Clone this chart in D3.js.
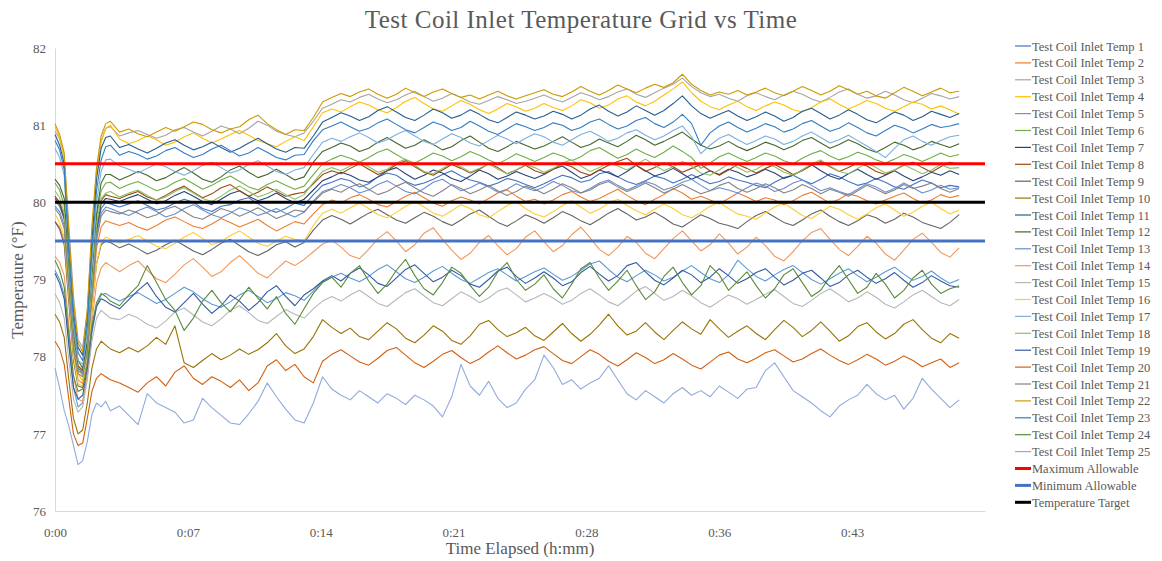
<!DOCTYPE html>
<html>
<head>
<meta charset="utf-8">
<script src="https://cdn.jsdelivr.net/npm/d3@7"></script>
<style>
  body { margin: 0; background: #fff; }
  text { font-family: "Liberation Serif", "DejaVu Serif", serif; fill: #595959; }
</style>
</head>
<body>
<div class="chart"></div>
<script>
// sample times in minutes elapsed
var minutes = [0, 0.25, 0.5, 0.75, 1, 1.25, 1.5, 1.75, 2, 2.25, 2.5, 2.75, 3,
  3.5, 4, 4.5, 5, 5.5, 6, 6.5, 7, 7.5, 8, 8.5, 9, 9.5, 10, 10.5, 11, 11.5, 12, 12.5, 13, 13.5, 14, 14.5,
  15, 15.5, 16, 16.5, 17, 17.5, 18, 18.5, 19, 19.5, 20, 20.5, 21, 21.5, 22, 22.5, 23, 23.5, 24, 24.5, 25, 25.5, 26,
  26.5, 27, 27.5, 28, 28.5, 29, 29.5, 30, 30.5, 31, 31.5, 32, 32.5, 33, 33.5, 34, 34.5, 35, 35.5, 36, 36.5, 37, 37.5,
  38, 38.5, 39, 39.5, 40, 40.5, 41, 41.5, 42, 42.5, 43, 43.5, 44, 44.5, 45, 45.5, 46, 46.5, 47, 47.5, 48, 48.5, 49];

var tickMinutes = [0, 7.2, 14.4, 21.6, 28.8, 36, 43.2];
var tickLabels = ["0:00", "0:07", "0:14", "0:21", "0:28", "0:36", "0:43"];
var yTicks = [76, 77, 78, 79, 80, 81, 82];

var maxAllowable = 80.5;
var minAllowable = 79.5;
var tempTarget = 80;

var temp1 = [80.02, 79.95, 79.78, 79.0, 78.2, 77.85, 77.8, 78.1, 78.85, 79.6, 79.92, 80.0, 79.98,
  79.94, 79.98, 80.02, 79.96, 79.90, 79.93, 79.99, 80.04, 80.00, 79.92, 79.88, 79.95, 79.97, 80.03, 80.06, 79.98, 79.91, 79.87, 79.92, 79.99, 79.96, 80.10, 80.22,
  80.26, 80.31, 80.28, 80.20, 80.24, 80.33, 80.38, 80.35, 80.27, 80.22, 80.25, 80.30, 80.36, 80.41, 80.34, 80.29, 80.26, 80.21, 80.25, 80.31, 80.28, 80.23, 80.19,
  80.24, 80.30, 80.35, 80.32, 80.26, 80.29, 80.37, 80.40, 80.33, 80.27, 80.23, 80.28, 80.34, 80.31, 80.25, 80.30, 80.36, 80.30, 80.24, 80.27, 80.33, 80.29, 80.26,
  80.22, 80.19, 80.26, 80.32, 80.35, 80.29, 80.24, 80.30, 80.37, 80.33, 80.27, 80.22, 80.25, 80.31, 80.26, 80.20, 80.17, 80.23, 80.29, 80.25, 80.19, 80.22, 80.20];
var temp2 = [79.75, 79.68, 79.5, 78.8, 78.05, 77.7, 77.65, 77.95, 78.7, 79.4, 79.68, 79.76, 79.74,
  79.70, 79.74, 79.68, 79.64, 79.70, 79.77, 79.81, 79.75, 79.69, 79.66, 79.72, 79.79, 79.74, 79.68, 79.73, 79.78, 79.70, 79.63, 79.69, 79.75, 79.72, 79.85, 79.97,
  80.03, 79.99, 80.06, 80.10, 80.04, 79.97, 79.94, 80.01, 80.08, 80.13, 80.06, 79.99, 79.95, 80.02, 80.07, 80.03, 79.98, 80.05, 80.12, 80.16, 80.08, 80.01, 80.04,
  79.98, 80.03, 80.10, 80.14, 80.07, 80.01, 80.05, 80.11, 80.17, 80.09, 80.02, 79.97, 80.04, 80.10, 80.18, 80.12, 80.04, 80.08, 80.03, 79.98, 80.05, 80.12, 80.07,
  80.01, 80.06, 80.03, 79.97, 80.02, 80.09, 80.13, 80.06, 79.99, 80.04, 80.11, 80.08, 80.02, 79.98, 80.03, 80.08, 80.12, 80.05, 79.99, 80.03, 80.10, 80.06, 80.09];
var temp3 = [80.92, 80.82, 80.6, 79.7, 78.8, 78.22, 78.12, 78.6, 79.6, 80.4, 80.8, 80.96, 80.98,
  80.86, 80.90, 80.93, 80.88, 80.83, 80.87, 80.94, 80.97, 80.91, 80.86, 80.92, 80.99, 80.95, 80.89, 80.96, 81.05, 81.00, 80.92, 80.88, 80.85, 80.90, 81.05, 81.22,
  81.27, 81.33, 81.30, 81.36, 81.40, 81.34, 81.29, 81.33, 81.39, 81.44, 81.37, 81.31, 81.35, 81.41, 81.36, 81.30, 81.27, 81.32, 81.37, 81.33, 81.28, 81.31, 81.35,
  81.39, 81.34, 81.30, 81.36, 81.42, 81.38, 81.33, 81.37, 81.43, 81.47, 81.40, 81.36, 81.42, 81.48, 81.53, 81.61, 81.50, 81.42, 81.37, 81.40, 81.35, 81.31, 81.38,
  81.42, 81.37, 81.33, 81.39, 81.44, 81.40, 81.34, 81.30, 81.36, 81.43, 81.47, 81.40, 81.35, 81.38, 81.44, 81.39, 81.33, 81.29, 81.35, 81.41, 81.38, 81.34, 81.37];
var temp4 = [80.98, 80.84, 80.58, 79.5, 78.5, 77.78, 77.68, 78.3, 79.5, 80.35, 80.78, 80.96, 81.0,
  80.82, 80.76, 80.80, 80.86, 80.81, 80.74, 80.78, 80.85, 80.90, 80.83, 80.77, 80.82, 80.88, 80.93, 80.87, 80.80, 80.76, 80.72, 80.79, 80.85, 80.80, 80.98, 81.16,
  81.21, 81.17, 81.24, 81.30, 81.26, 81.20, 81.16, 81.23, 81.31, 81.36, 81.28, 81.21, 81.18, 81.25, 81.32, 81.27, 81.20, 81.15, 81.21, 81.28, 81.24, 81.18, 81.22,
  81.28, 81.23, 81.19, 81.25, 81.33, 81.29, 81.22, 81.26, 81.34, 81.38, 81.30, 81.25, 81.31, 81.39, 81.47, 81.56, 81.42, 81.31, 81.24, 81.20, 81.26, 81.31, 81.24,
  81.19, 81.25, 81.30, 81.26, 81.20, 81.17, 81.23, 81.30, 81.34, 81.27, 81.21, 81.26, 81.32, 81.28, 81.22, 81.18, 81.24, 81.30, 81.27, 81.21, 81.25, 81.20, 81.14];
var temp5 = [79.12, 79.0, 78.8, 78.2, 77.6, 77.35, 77.4, 77.75, 78.3, 78.65, 78.8, 78.82, 78.78,
  78.72, 78.78, 78.83, 78.76, 78.69, 78.74, 78.82, 78.90, 78.84, 78.75, 78.68, 78.64, 78.71, 78.80, 78.86, 78.78, 78.70, 78.75, 78.83, 78.79, 78.73, 78.85, 78.97,
  79.03, 79.08, 79.02, 78.97, 79.04, 79.13, 79.19, 79.10, 79.01, 78.96, 79.03, 79.11, 79.17, 79.08, 79.00, 78.95, 79.02, 79.09, 79.14, 79.06, 78.98, 79.04, 79.10,
  79.15, 79.07, 78.99, 79.04, 79.12, 79.20, 79.24, 79.13, 79.03, 78.97, 79.05, 79.12, 79.06, 78.98, 79.03, 79.11, 79.18, 79.09, 79.01, 78.96, 79.06, 79.25, 79.14,
  79.04, 78.98, 79.06, 79.13, 79.18, 79.09, 79.00, 78.94, 79.01, 79.08, 79.14, 79.05, 78.97, 79.03, 79.10, 79.16, 79.07, 78.99, 79.04, 79.11, 79.02, 78.95, 79.00];
var temp6 = [80.25, 80.16, 79.95, 79.1, 78.25, 77.88, 77.82, 78.15, 78.95, 79.8, 80.15, 80.25, 80.26,
  80.18, 80.23, 80.27, 80.21, 80.15, 80.19, 80.26, 80.31, 80.24, 80.17, 80.22, 80.29, 80.34, 80.27, 80.20, 80.16, 80.23, 80.28, 80.22, 80.17, 80.21, 80.36, 80.50,
  80.56, 80.61, 80.57, 80.52, 80.58, 80.65, 80.69, 80.62, 80.55, 80.51, 80.57, 80.64, 80.60, 80.54, 80.59, 80.66, 80.61, 80.55, 80.50, 80.56, 80.63, 80.58, 80.53,
  80.58, 80.64, 80.60, 80.54, 80.59, 80.67, 80.71, 80.64, 80.57, 80.62, 80.69, 80.63, 80.58, 80.65, 80.73, 80.66, 80.58, 80.44, 80.51, 80.59, 80.64, 80.58, 80.53,
  80.58, 80.64, 80.60, 80.54, 80.50, 80.57, 80.63, 80.67, 80.60, 80.55, 80.59, 80.65, 80.61, 80.55, 80.51, 80.56, 80.62, 80.58, 80.53, 80.58, 80.64, 80.59, 80.62];
var temp7 = [80.05, 79.98, 79.8, 79.0, 78.2, 77.82, 77.78, 78.1, 78.9, 79.65, 79.98, 80.05, 80.04,
  80.01, 80.06, 80.10, 80.04, 79.98, 80.02, 80.09, 80.14, 80.08, 80.01, 79.97, 80.04, 80.11, 80.15, 80.08, 80.02, 80.06, 80.12, 80.05, 79.99, 80.04, 80.16, 80.28,
  80.33, 80.39, 80.35, 80.29, 80.26, 80.33, 80.41, 80.45, 80.37, 80.30, 80.35, 80.42, 80.38, 80.31, 80.27, 80.34, 80.42, 80.37, 80.30, 80.34, 80.40, 80.35, 80.31,
  80.36, 80.43, 80.47, 80.39, 80.31, 80.35, 80.42, 80.38, 80.33, 80.40, 80.48, 80.41, 80.34, 80.38, 80.44, 80.37, 80.30, 80.35, 80.41, 80.36, 80.43, 80.39, 80.33,
  80.37, 80.43, 80.38, 80.31, 80.35, 80.42, 80.49, 80.41, 80.34, 80.30, 80.37, 80.43, 80.36, 80.30, 80.35, 80.41, 80.34, 80.28, 80.33, 80.39, 80.35, 80.41, 80.36];
var temp8 = [80.08, 80.0, 79.82, 79.05, 78.25, 77.88, 77.82, 78.15, 78.95, 79.7, 80.02, 80.1, 80.08,
  80.05, 80.10, 80.14, 80.07, 80.03, 80.09, 80.16, 80.21, 80.13, 80.06, 80.11, 80.19, 80.23, 80.15, 80.08, 80.13, 80.20, 80.14, 80.08, 80.11, 80.13, 80.24, 80.36,
  80.41, 80.37, 80.44, 80.50, 80.43, 80.36, 80.41, 80.49, 80.54, 80.46, 80.39, 80.35, 80.42, 80.49, 80.44, 80.38, 80.43, 80.50, 80.45, 80.37, 80.42, 80.48, 80.41,
  80.37, 80.43, 80.50, 80.46, 80.39, 80.35, 80.42, 80.48, 80.53, 80.57, 80.48, 80.40, 80.45, 80.51, 80.46, 80.39, 80.44, 80.49, 80.41, 80.35, 80.42, 80.49, 80.44,
  80.38, 80.44, 80.49, 80.43, 80.36, 80.41, 80.48, 80.53, 80.46, 80.40, 80.45, 80.51, 80.47, 80.40, 80.36, 80.42, 80.48, 80.52, 80.45, 80.39, 80.46, 80.52, 80.49];
var temp9 = [79.75, 79.65, 79.45, 78.7, 77.95, 77.62, 77.6, 77.9, 78.6, 79.2, 79.45, 79.5, 79.48,
  79.41, 79.46, 79.40, 79.33, 79.38, 79.45, 79.51, 79.44, 79.37, 79.32, 79.39, 79.47, 79.52, 79.44, 79.36, 79.31, 79.37, 79.45, 79.49, 79.42, 79.48, 79.64, 79.77,
  79.83, 79.78, 79.72, 79.79, 79.86, 79.91, 79.84, 79.77, 79.73, 79.80, 79.87, 79.82, 79.75, 79.70, 79.77, 79.85, 79.90, 79.82, 79.74, 79.69, 79.76, 79.84, 79.79,
  79.73, 79.80, 79.88, 79.83, 79.76, 79.71, 79.78, 79.86, 79.92, 79.85, 79.77, 79.81, 79.87, 79.80, 79.72, 79.68, 79.76, 79.84, 79.79, 79.73, 79.70, 79.66, 79.75,
  79.83, 79.88, 79.81, 79.74, 79.70, 79.77, 79.85, 79.90, 79.82, 79.75, 79.70, 79.76, 79.84, 79.80, 79.73, 79.78, 79.86, 79.81, 79.74, 79.70, 79.66, 79.74, 79.84];
var temp10 = [78.55, 78.45, 78.25, 77.7, 77.2, 77.0, 77.05, 77.4, 77.85, 78.1, 78.2, 78.15, 78.1,
  78.05, 78.12, 78.06, 78.14, 78.25, 78.16, 78.40, 77.92, 77.86, 77.95, 78.04, 77.96, 78.02, 78.10, 78.03, 78.09, 78.18, 78.30, 78.14, 78.04, 78.10, 78.26, 78.48,
  78.38, 78.30, 78.37, 78.26, 78.22, 78.33, 78.44, 78.36, 78.24, 78.18, 78.28, 78.40, 78.33, 78.21, 78.16, 78.27, 78.42, 78.47, 78.35, 78.26, 78.31, 78.38, 78.27,
  78.21, 78.32, 78.43, 78.30, 78.20, 78.29, 78.41, 78.55, 78.40, 78.28, 78.33, 78.44, 78.32, 78.22, 78.34, 78.45, 78.36, 78.29, 78.48, 78.36, 78.25, 78.33, 78.40,
  78.30, 78.22, 78.35, 78.47, 78.38, 78.26, 78.34, 78.45, 78.33, 78.20, 78.27, 78.39, 78.44, 78.32, 78.23, 78.30, 78.42, 78.48, 78.35, 78.24, 78.18, 78.30, 78.24];
var temp11 = [80.88, 80.74, 80.5, 79.5, 78.6, 78.12, 78.02, 78.5, 79.5, 80.3, 80.7, 80.84, 80.86,
  80.71, 80.75, 80.69, 80.64, 80.70, 80.77, 80.81, 80.74, 80.68, 80.72, 80.78, 80.71, 80.65, 80.70, 80.77, 80.83, 80.76, 80.69, 80.65, 80.71, 80.70, 80.86, 81.04,
  81.10, 81.16, 81.12, 81.06, 81.11, 81.19, 81.24, 81.17, 81.10, 81.06, 81.13, 81.21, 81.16, 81.09, 81.13, 81.20, 81.14, 81.07, 81.03, 81.10, 81.17, 81.13, 81.08,
  81.12, 81.18, 81.14, 81.08, 81.13, 81.21, 81.26, 81.18, 81.12, 81.17, 81.25, 81.19, 81.13, 81.19, 81.28, 81.38, 81.25, 81.15, 81.09, 81.14, 81.19, 81.12, 81.06,
  81.11, 81.17, 81.12, 81.05, 81.10, 81.18, 81.22, 81.15, 81.08, 81.13, 81.20, 81.14, 81.07, 81.03, 81.10, 81.17, 81.13, 81.06, 81.11, 81.18, 81.14, 81.10, 81.15];
var temp12 = [80.3, 80.22, 80.05, 79.2, 78.35, 77.95, 77.85, 78.2, 79.0, 79.85, 80.25, 80.36, 80.36,
  80.29, 80.34, 80.40, 80.35, 80.28, 80.32, 80.39, 80.45, 80.38, 80.30, 80.26, 80.33, 80.42, 80.47, 80.39, 80.32, 80.36, 80.43, 80.36, 80.29, 80.33, 80.52, 80.66,
  80.71, 80.77, 80.73, 80.66, 80.70, 80.78, 80.84, 80.77, 80.70, 80.74, 80.81, 80.75, 80.68, 80.72, 80.80, 80.86, 80.78, 80.70, 80.66, 80.72, 80.79, 80.74, 80.69,
  80.73, 80.79, 80.85, 80.78, 80.71, 80.75, 80.82, 80.77, 80.72, 80.79, 80.87, 80.81, 80.74, 80.79, 80.85, 80.91, 80.82, 80.74, 80.69, 80.73, 80.79, 80.72, 80.67,
  80.72, 80.78, 80.74, 80.68, 80.73, 80.80, 80.84, 80.77, 80.70, 80.75, 80.81, 80.76, 80.69, 80.65, 80.71, 80.78, 80.74, 80.68, 80.72, 80.79, 80.75, 80.71, 80.76];
var temp13 = [79.95, 79.88, 79.7, 78.92, 78.15, 77.82, 77.78, 78.08, 78.82, 79.55, 79.86, 79.94, 79.92,
  79.87, 79.83, 79.89, 79.94, 79.88, 79.81, 79.85, 79.92, 79.97, 79.90, 79.84, 79.80, 79.86, 79.93, 79.89, 79.83, 79.87, 79.92, 79.86, 79.81, 79.87, 80.02, 80.14,
  80.18, 80.23, 80.19, 80.12, 80.16, 80.23, 80.28, 80.21, 80.14, 80.11, 80.18, 80.26, 80.30, 80.22, 80.15, 80.19, 80.25, 80.20, 80.13, 80.17, 80.24, 80.19, 80.15,
  80.20, 80.27, 80.22, 80.15, 80.12, 80.18, 80.25, 80.29, 80.22, 80.16, 80.21, 80.27, 80.23, 80.16, 80.20, 80.26, 80.30, 80.22, 80.15, 80.19, 80.16, 80.12, 80.19,
  80.25, 80.21, 80.14, 80.18, 80.25, 80.29, 80.22, 80.15, 80.19, 80.14, 80.10, 80.17, 80.24, 80.20, 80.13, 80.18, 80.25, 80.19, 80.12, 80.16, 80.22, 80.17, 80.19];
var temp14 = [79.3, 79.22, 79.05, 78.4, 77.75, 77.45, 77.42, 77.75, 78.45, 78.95, 79.15, 79.22, 79.18,
  79.10, 79.18, 79.24, 79.12, 79.01, 78.96, 79.07, 79.19, 79.27, 79.16, 79.04, 79.10, 79.22, 79.31, 79.20, 79.08, 79.02, 79.13, 79.24, 79.18, 79.26, 79.36, 79.46,
  79.51, 79.42, 79.31, 79.27, 79.39, 79.53, 79.62, 79.50, 79.36, 79.45, 79.60, 79.67, 79.52, 79.38, 79.26, 79.34, 79.48, 79.57, 79.44, 79.32, 79.40, 79.55, 79.63,
  79.49, 79.36, 79.44, 79.58, 79.68, 79.54, 79.39, 79.31, 79.42, 79.56, 79.48, 79.34, 79.27, 79.40, 79.53, 79.63, 79.50, 79.37, 79.45, 79.59, 79.47, 79.33, 79.42,
  79.55, 79.44, 79.30, 79.24, 79.36, 79.50, 79.61, 79.66, 79.52, 79.39, 79.31, 79.43, 79.56, 79.47, 79.33, 79.25, 79.38, 79.52, 79.60, 79.48, 79.35, 79.29, 79.41];
var temp15 = [78.82, 78.7, 78.5, 77.95, 77.45, 77.28, 77.35, 77.7, 78.2, 78.5, 78.6, 78.55, 78.5,
  78.48, 78.55, 78.50, 78.42, 78.37, 78.46, 78.58, 78.63, 78.54, 78.45, 78.40, 78.49, 78.60, 78.66, 78.57, 78.47, 78.43, 78.52, 78.61, 78.55, 78.50, 78.62, 78.72,
  78.78, 78.72, 78.80, 78.86, 78.78, 78.69, 78.65, 78.74, 78.83, 78.88, 78.79, 78.70, 78.66, 78.75, 78.84, 78.78, 78.70, 78.76, 78.85, 78.89, 78.80, 78.71, 78.76,
  78.82, 78.76, 78.68, 78.73, 78.82, 78.88, 78.80, 78.71, 78.66, 78.75, 78.85, 78.91, 78.82, 78.73, 78.78, 78.86, 78.79, 78.70, 78.64, 78.72, 78.80, 78.75, 78.68,
  78.74, 78.81, 78.87, 78.78, 78.69, 78.65, 78.73, 78.82, 78.88, 78.80, 78.71, 78.76, 78.84, 78.77, 78.68, 78.63, 78.71, 78.80, 78.86, 78.78, 78.70, 78.66, 78.74];
var temp16 = [79.85, 79.74, 79.55, 78.8, 78.0, 77.65, 77.62, 77.9, 78.6, 79.2, 79.48, 79.55, 79.52,
  79.47, 79.52, 79.57, 79.50, 79.43, 79.40, 79.47, 79.55, 79.61, 79.53, 79.45, 79.49, 79.57, 79.63, 79.55, 79.47, 79.43, 79.50, 79.56, 79.52, 79.50, 79.70, 79.86,
  79.91, 79.86, 79.93, 79.99, 79.92, 79.84, 79.80, 79.87, 79.95, 80.01, 79.94, 79.86, 79.82, 79.89, 79.97, 79.92, 79.84, 79.80, 79.88, 79.96, 80.01, 79.92, 79.85,
  79.81, 79.88, 79.96, 80.02, 79.94, 79.86, 79.91, 79.99, 80.04, 79.96, 79.89, 79.84, 79.91, 79.98, 79.92, 79.84, 79.80, 79.87, 79.95, 80.00, 79.92, 79.85, 79.82,
  79.78, 79.86, 79.94, 79.99, 79.91, 79.83, 79.79, 79.87, 79.95, 79.91, 79.84, 79.78, 79.85, 79.93, 79.98, 79.90, 79.82, 79.87, 79.95, 80.00, 79.92, 79.85, 79.90];
var temp17 = [80.7, 80.58, 80.35, 79.3, 78.4, 77.95, 77.9, 78.3, 79.2, 80.0, 80.4, 80.55, 80.56,
  80.47, 80.43, 80.38, 80.44, 80.50, 80.46, 80.40, 80.35, 80.41, 80.48, 80.52, 80.45, 80.38, 80.42, 80.49, 80.54, 80.47, 80.40, 80.36, 80.42, 80.45, 80.62, 80.78,
  80.83, 80.79, 80.85, 80.90, 80.84, 80.77, 80.81, 80.88, 80.93, 80.86, 80.79, 80.75, 80.82, 80.89, 80.84, 80.77, 80.73, 80.80, 80.87, 80.82, 80.76, 80.83, 80.89,
  80.85, 80.78, 80.74, 80.81, 80.88, 80.92, 80.86, 80.79, 80.83, 80.90, 80.94, 80.87, 80.81, 80.86, 80.93, 80.99, 80.85, 80.63, 80.74, 80.83, 80.88, 80.81, 80.75,
  80.80, 80.86, 80.82, 80.75, 80.79, 80.86, 80.91, 80.84, 80.77, 80.81, 80.87, 80.80, 80.73, 80.66, 80.58, 80.70, 80.81, 80.86, 80.79, 80.74, 80.80, 80.85, 80.87];
var temp18 = [80.15, 80.06, 79.86, 79.02, 78.2, 77.82, 77.76, 78.1, 78.9, 79.7, 80.05, 80.12, 80.14,
  80.07, 80.12, 80.16, 80.09, 80.03, 80.07, 80.14, 80.19, 80.12, 80.05, 80.01, 80.08, 80.16, 80.21, 80.14, 80.07, 80.11, 80.17, 80.10, 80.04, 80.10, 80.26, 80.40,
  80.45, 80.41, 80.47, 80.53, 80.46, 80.39, 80.43, 80.51, 80.56, 80.48, 80.40, 80.37, 80.44, 80.51, 80.46, 80.39, 80.44, 80.50, 80.43, 80.37, 80.42, 80.49, 80.45,
  80.39, 80.44, 80.51, 80.55, 80.47, 80.40, 80.45, 80.52, 80.47, 80.42, 80.49, 80.56, 80.48, 80.41, 80.46, 80.53, 80.47, 80.38, 80.35, 80.42, 80.50, 80.45, 80.39,
  80.43, 80.50, 80.46, 80.39, 80.35, 80.42, 80.50, 80.55, 80.47, 80.40, 80.37, 80.44, 80.51, 80.45, 80.38, 80.42, 80.49, 80.43, 80.37, 80.42, 80.49, 80.44, 80.45];
var temp19 = [79.08, 78.95, 78.75, 78.15, 77.6, 77.45, 77.5, 77.85, 78.35, 78.65, 78.75, 78.72, 78.68,
  78.62, 78.74, 78.86, 78.96, 78.78, 78.64, 78.58, 78.70, 78.82, 78.68, 78.56, 78.66, 78.80, 78.72, 78.60, 78.70, 78.84, 78.92, 78.78, 78.66, 78.80, 78.88, 78.98,
  79.05, 78.98, 79.08, 79.15, 79.06, 78.95, 78.91, 79.02, 79.13, 79.19, 79.08, 78.97, 79.03, 79.12, 79.05, 78.94, 78.90, 79.00, 79.11, 79.16, 79.04, 78.95, 79.02,
  79.10, 79.02, 78.92, 78.97, 79.09, 79.17, 79.07, 78.98, 79.05, 79.18, 79.22, 79.10, 78.99, 78.93, 79.02, 79.12, 79.06, 78.96, 79.03, 79.14, 79.05, 78.95, 79.01,
  79.09, 79.14, 79.03, 78.93, 78.99, 79.08, 79.12, 79.02, 78.91, 78.96, 79.06, 79.12, 79.03, 78.95, 79.01, 79.09, 78.99, 78.90, 78.96, 79.05, 78.98, 78.92, 78.90];
var temp20 = [78.2, 78.1, 77.9, 77.45, 77.0, 76.85, 76.88, 77.2, 77.55, 77.72, 77.78, 77.74, 77.7,
  77.66, 77.60, 77.54, 77.66, 77.74, 77.62, 77.80, 77.88, 77.72, 77.64, 77.74, 77.68, 77.60, 77.70, 77.56, 77.66, 77.88, 77.96, 77.82, 77.90, 77.74, 77.66, 77.94,
  78.03, 78.09, 78.01, 77.93, 77.89, 77.98, 78.08, 78.12, 78.02, 77.92, 77.86, 77.94, 78.03, 78.08, 77.99, 77.91, 77.97, 78.06, 78.14, 78.05, 77.97, 78.02, 78.09,
  78.13, 78.04, 77.95, 77.91, 78.00, 78.09, 78.03, 77.94, 77.88, 77.96, 78.05, 77.99, 77.91, 77.96, 78.04, 77.97, 77.89, 77.84, 77.93, 78.02, 78.06, 77.97, 77.92,
  77.98, 78.05, 78.09, 78.01, 77.93, 77.97, 78.04, 78.10, 78.02, 77.95, 77.90, 77.96, 78.03, 77.97, 77.89, 77.94, 78.01, 77.95, 77.87, 77.92, 77.97, 77.86, 77.92];
var temp21 = [79.92, 79.84, 79.66, 78.9, 78.1, 77.78, 77.74, 78.05, 78.8, 79.5, 79.82, 79.9, 79.88,
  79.85, 79.90, 79.86, 79.80, 79.84, 79.91, 79.95, 79.88, 79.81, 79.78, 79.85, 79.92, 79.88, 79.82, 79.87, 79.93, 79.86, 79.79, 79.84, 79.90, 79.88, 80.00, 80.12,
  80.17, 80.13, 80.20, 80.24, 80.17, 80.10, 80.14, 80.21, 80.26, 80.19, 80.12, 80.08, 80.15, 80.23, 80.18, 80.11, 80.16, 80.22, 80.15, 80.09, 80.14, 80.21, 80.17,
  80.11, 80.17, 80.24, 80.19, 80.12, 80.16, 80.23, 80.27, 80.20, 80.14, 80.19, 80.25, 80.19, 80.12, 80.17, 80.23, 80.17, 80.11, 80.15, 80.22, 80.26, 80.18, 80.13,
  80.18, 80.24, 80.19, 80.12, 80.16, 80.23, 80.18, 80.11, 80.17, 80.13, 80.08, 80.15, 80.22, 80.17, 80.11, 80.16, 80.23, 80.18, 80.21, 80.25, 80.18, 80.13, 80.18];
var temp22 = [81.02, 80.88, 80.64, 79.6, 78.7, 78.18, 78.06, 78.6, 79.7, 80.45, 80.86, 81.02, 81.05,
  80.91, 80.95, 80.89, 80.85, 80.91, 80.97, 80.92, 80.98, 81.04, 81.01, 80.94, 80.90, 80.95, 80.98, 81.07, 81.13, 81.02, 80.94, 80.88, 80.94, 80.93, 81.10, 81.30,
  81.36, 81.41, 81.37, 81.43, 81.47, 81.40, 81.35, 81.40, 81.48, 81.42, 81.37, 81.43, 81.47, 81.41, 81.36, 81.39, 81.34, 81.39, 81.44, 81.38, 81.34, 81.38, 81.42,
  81.46, 81.40, 81.37, 81.43, 81.50, 81.44, 81.39, 81.45, 81.52, 81.47, 81.42, 81.48, 81.53, 81.49, 81.55, 81.66, 81.53, 81.45, 81.39, 81.43, 81.40, 81.45, 81.39,
  81.43, 81.48, 81.42, 81.38, 81.44, 81.50, 81.45, 81.39, 81.44, 81.51, 81.46, 81.40, 81.44, 81.38, 81.35, 81.42, 81.49, 81.44, 81.38, 81.43, 81.48, 81.42, 81.44];
var temp23 = [80.8, 80.68, 80.42, 79.35, 78.5, 78.05, 77.95, 78.4, 79.35, 80.15, 80.55, 80.72, 80.74,
  80.61, 80.66, 80.62, 80.56, 80.60, 80.67, 80.71, 80.64, 80.58, 80.62, 80.69, 80.74, 80.67, 80.60, 80.64, 80.71, 80.65, 80.58, 80.55, 80.61, 80.62, 80.80, 80.94,
  80.99, 81.04, 80.98, 80.92, 80.96, 81.03, 81.08, 81.01, 80.94, 80.90, 80.97, 81.04, 81.00, 80.93, 80.97, 81.05, 80.99, 80.92, 80.88, 80.95, 81.02, 80.98, 80.93,
  80.97, 81.03, 81.00, 80.93, 80.97, 81.04, 81.08, 81.01, 80.95, 80.99, 81.06, 81.10, 81.02, 80.97, 81.04, 81.14, 81.02, 80.74, 80.90, 80.99, 81.04, 80.97, 80.91,
  80.96, 81.02, 80.98, 80.91, 80.95, 81.02, 81.06, 80.99, 80.92, 80.96, 81.03, 80.97, 80.90, 80.86, 80.93, 81.00, 80.96, 80.90, 80.95, 81.01, 80.97, 80.99, 81.02];
var temp24 = [79.25, 79.12, 78.9, 78.3, 77.75, 77.55, 77.58, 77.9, 78.4, 78.7, 78.82, 78.78, 78.72,
  78.66, 78.80, 78.92, 79.18, 78.96, 78.74, 78.60, 78.34, 78.50, 78.72, 78.86, 78.70, 78.58, 78.74, 78.90, 78.76, 78.62, 78.78, 78.56, 78.42, 78.62, 78.82, 78.96,
  79.03, 78.90, 79.08, 79.18, 78.98, 78.82, 78.94, 79.12, 79.26, 79.05, 78.88, 78.80, 78.96, 79.16, 79.08, 78.92, 78.78, 78.90, 79.10, 79.22, 79.00, 78.86, 78.94,
  79.06, 78.88, 78.76, 78.94, 79.14, 79.22, 79.02, 78.86, 78.98, 79.12, 78.92, 78.74, 78.84, 79.04, 79.16, 78.96, 78.80, 78.92, 79.18, 79.06, 78.86, 78.98, 79.10,
  78.92, 78.76, 78.88, 79.06, 79.14, 78.96, 78.78, 78.86, 79.04, 79.18, 79.00, 78.82, 78.90, 79.08, 78.94, 78.76, 78.86, 79.02, 79.12, 78.94, 78.82, 78.88, 78.92];
var temp25 = [77.85, 77.6, 77.3, 77.1, 76.85, 76.6, 76.65, 76.9, 77.25, 77.4, 77.35, 77.42, 77.3,
  77.36, 77.24, 77.12, 77.52, 77.40, 77.34, 77.28, 77.14, 77.18, 77.46, 77.34, 77.24, 77.14, 77.12, 77.26, 77.42, 77.66, 77.48, 77.32, 77.18, 77.14, 77.40, 77.74,
  77.58, 77.50, 77.44, 77.56, 77.48, 77.40, 77.52, 77.46, 77.38, 77.50, 77.44, 77.36, 77.22, 77.48, 77.90, 77.62, 77.50, 77.68, 77.46, 77.34, 77.40, 77.58, 77.70,
  78.02, 77.86, 77.64, 77.70, 77.58, 77.66, 77.72, 77.88, 77.70, 77.52, 77.44, 77.56, 77.48, 77.40, 77.52, 77.60, 77.50, 77.56, 77.48, 77.62, 77.54, 77.46, 77.58,
  77.60, 77.82, 77.92, 77.74, 77.56, 77.48, 77.40, 77.30, 77.22, 77.36, 77.44, 77.50, 77.64, 77.52, 77.44, 77.50, 77.32, 77.46, 77.72, 77.58, 77.46, 77.34, 77.44];

var seriesValues = [temp1, temp2, temp3, temp4, temp5, temp6, temp7, temp8, temp9, temp10,
  temp11, temp12, temp13, temp14, temp15, temp16, temp17, temp18, temp19, temp20,
  temp21, temp22, temp23, temp24, temp25];
var seriesNames = seriesValues.map(function(d, i) { return "Test Coil Inlet Temp " + (i + 1); });

// excel office theme series colours
var seriesColors = ["#4472C4", "#ED7D31", "#A5A5A5", "#FFC000", "#5B9BD5", "#70AD47",
  "#264478", "#9E480E", "#636363", "#997300", "#255E91", "#43682B",
  "#698ED0", "#F1975A", "#B7B7B7", "#FFCD33", "#7CAFDD", "#8CC168",
  "#335AA1", "#D26012", "#848484", "#CC9A00", "#327DC2", "#5A8A39", "#8FAADC"];

var svgWidth = 1162;
var svgHeight = 561;
var margin = { top: 48, right: 177, bottom: 50, left: 55 };
var width = svgWidth - margin.left - margin.right;
var height = svgHeight - margin.top - margin.bottom;

var svg = d3.select(".chart")
  .append("svg")
  .attr("width", svgWidth)
  .attr("height", svgHeight);

var chartGroup = svg.append("g")
  .attr("transform", `translate(${margin.left}, ${margin.top})`);

var xScale = d3.scaleLinear().domain([0, 50.4]).range([0, width]);
var yScale = d3.scaleLinear().domain([76, 82]).range([height, 0]);

// axes
var bottomAxis = d3.axisBottom(xScale)
  .tickValues(tickMinutes)
  .tickFormat(function(d, i) { return tickLabels[i]; })
  .tickSize(0).tickSizeOuter(0).tickPadding(17);
var leftAxis = d3.axisLeft(yScale)
  .tickValues(yTicks)
  .tickFormat(d3.format("d"))
  .tickSize(0).tickSizeOuter(0).tickPadding(9);

var xAxisG = chartGroup.append("g")
  .attr("transform", `translate(0, ${height})`)
  .call(bottomAxis);
var yAxisG = chartGroup.append("g").call(leftAxis);

[xAxisG, yAxisG].forEach(function(g) {
  g.select(".domain").attr("stroke", "#D9D9D9").attr("stroke-width", 1);
  g.selectAll("text")
    .attr("fill", "#595959")
    .style("font-family", '"Liberation Serif", serif')
    .style("font-size", "13px");
});

// series lines
var line = d3.line()
  .x(function(d, i) { return xScale(minutes[i]); })
  .y(function(d) { return yScale(d); });

chartGroup.selectAll(".series")
  .data(seriesValues)
  .enter()
  .append("path")
  .attr("class", "series")
  .attr("fill", "none")
  .attr("stroke", function(d, i) { return seriesColors[i]; })
  .attr("stroke-width", 1.1)
  .attr("stroke-linejoin", "round")
  .attr("d", function(d) { return line(d.slice(0, minutes.length)); });

// allowable limits and target
var refLines = [
  { name: "Maximum Allowable", value: maxAllowable, color: "#FF0000" },
  { name: "Minimum Allowable", value: minAllowable, color: "#4472C4" },
  { name: "Temperature Target", value: tempTarget, color: "#000000" }
];
refLines.forEach(function(r) {
  chartGroup.append("line")
    .attr("x1", 0).attr("x2", width)
    .attr("y1", yScale(r.value)).attr("y2", yScale(r.value))
    .attr("stroke", r.color)
    .attr("stroke-width", 3);
});

// title and axis labels
svg.append("text")
  .attr("x", 581).attr("y", 28)
  .attr("text-anchor", "middle")
  .style("font-size", "25px")
  .style("letter-spacing", "0.5px")
  .text("Test Coil Inlet Temperature Grid vs Time");

svg.append("text")
  .attr("transform", "rotate(-90)")
  .attr("x", -280).attr("y", 23)
  .attr("text-anchor", "middle")
  .style("font-size", "17px")
  .text("Temperature (°F)");

svg.append("text")
  .attr("x", 520).attr("y", 554)
  .attr("text-anchor", "middle")
  .style("font-size", "17px")
  .text("Time Elapsed (h:mm)");

// legend
var legendItems = seriesNames.map(function(n, i) {
  return { name: n, color: seriesColors[i], w: 1.2 };
}).concat(refLines.map(function(r) { return { name: r.name, color: r.color, w: 3 }; }));

var legend = svg.append("g").attr("transform", "translate(1015, 46)");
var rowH = 16.9;
var rows = legend.selectAll(".leg")
  .data(legendItems)
  .enter()
  .append("g")
  .attr("transform", function(d, i) { return `translate(0, ${i * rowH})`; });
rows.append("line")
  .attr("x1", 0).attr("x2", 16)
  .attr("stroke", function(d) { return d.color; })
  .attr("stroke-width", function(d) { return d.w; });
rows.append("text")
  .attr("x", 17).attr("y", 4.5)
  .style("font-size", "12.5px")
  .text(function(d) { return d.name; });
</script>
</body>
</html>
